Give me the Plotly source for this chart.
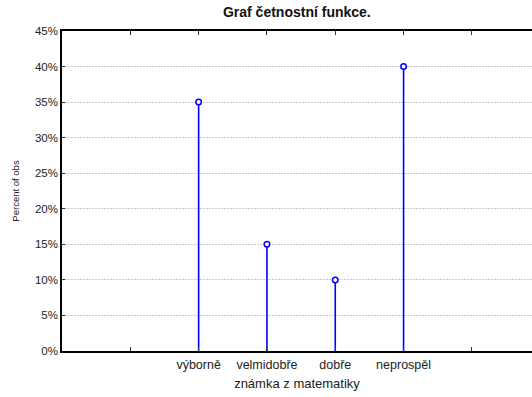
import plotly.graph_objects as go

categories = ["výborně", "velmidobře", "dobře", "neprospěl"]
percent = [35, 15, 10, 40]
y_ticks = [0, 5, 10, 15, 20, 25, 30, 35, 40, 45]

xs = list(range(len(categories)))
stem_x, stem_y = [], []
for x, v in zip(xs, percent):
    stem_x += [x, x, None]
    stem_y += [0, v, None]

fig = go.Figure()
fig.add_trace(go.Scatter(x=stem_x, y=stem_y, mode="lines",
                         line=dict(color="#0000ff", width=1.6),
                         hoverinfo="skip", showlegend=False))
fig.add_trace(go.Scatter(x=xs, y=percent, mode="markers",
                         marker=dict(symbol="circle", color="white", size=5.5,
                                     line=dict(width=1.5, color="#0000ff")),
                         showlegend=False))

tickvals = [-1] + xs + [len(categories)]
ticktext = [""] + categories + [""]

fig.update_layout(
    width=532, height=397,
    margin=dict(l=62, r=0, t=31, b=46),
    paper_bgcolor="white", plot_bgcolor="white",
    font=dict(family="Liberation Sans, Arial, sans-serif", size=11, color="#222"),
    title=dict(text="<b>Graf četnostní funkce.</b>", x=0.558, xanchor="center",
               y=0.969, yanchor="middle", font=dict(size=14, color="#111")),
    xaxis=dict(range=[-2, 4.88], tickvals=tickvals, ticktext=ticktext,
               ticks="inside", ticklen=4, tickcolor="#333", tickwidth=1,
               ticklabelstandoff=1,
               showline=True, linecolor="black", linewidth=1.5, mirror="ticks",
               showgrid=False, zeroline=False,
               title=dict(text="známka z matematiky", font=dict(size=13), standoff=8),
               tickfont=dict(size=12.5)),
    yaxis=dict(range=[0, 45], tickvals=y_ticks, ticktext=[f"{v}%" for v in y_ticks],
               ticks="inside", ticklen=3, tickcolor="#333",
               showline=True, linecolor="black", linewidth=1.5,
               showgrid=True, gridcolor="#c8c8c8", griddash="2px,1px", gridwidth=1,
               zeroline=False,
               title=dict(text="Percent of obs", font=dict(size=9.5), standoff=14),
               tickfont=dict(size=11.5)),
)

fig.write_html("out.html")
